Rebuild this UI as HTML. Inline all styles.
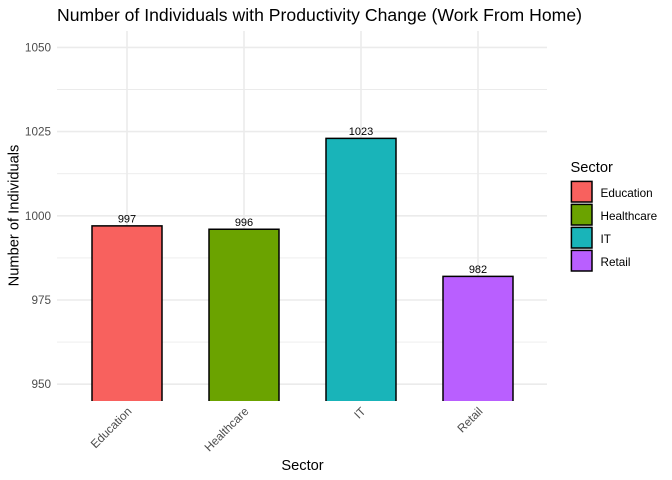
<!DOCTYPE html>
<html>
<head>
<meta charset="utf-8">
<style>
html,body{margin:0;padding:0;background:#fff;width:672px;height:480px;overflow:hidden}
svg{display:block}
text{font-family:"Liberation Sans",Arial,sans-serif}
</style>
</head>
<body>
<svg id="chart" width="672" height="480" viewBox="0 0 672 480" xmlns="http://www.w3.org/2000/svg">
  <rect x="0" y="0" width="672" height="480" fill="#fff"/>
  <g id="grid"></g>
  <g id="bars"></g>
  <g id="ylabels"></g>
  <g id="xlabels"></g>
  <text x="57" y="21" font-size="17.6" textLength="525" lengthAdjust="spacing" fill="#000">Number of Individuals with Productivity Change (Work From Home)</text>
  <text x="302.5" y="470" font-size="14.67" text-anchor="middle" fill="#000">Sector</text>
  <text transform="translate(18.5 215.5) rotate(-90)" font-size="14.67" text-anchor="middle" fill="#000">Number of Individuals</text>
  <g id="legend">
    <text x="570.5" y="172" font-size="14.67" fill="#000">Sector</text>
  </g>
</svg>
<script>
const categories = ["Education", "Healthcare", "IT", "Retail"];
const counts = [997, 996, 1023, 982];
const barColors = ["#F8615E", "#6BA300", "#19B4B9", "#B95FFF"];
const majorTicks = [950, 975, 1000, 1025, 1050];
const minorTicks = [962.5, 987.5, 1012.5, 1037.5];

const NS = "http://www.w3.org/2000/svg";
const panel = {left: 57, right: 547, top: 31, bottom: 401};
function y(v) { return 215.8 - (v - 1000) * 3.368; }
function x(i) { return 127 + i * 117; }
const barWidth = 70;

function make(parent, tag, attrs, txt) {
  const el = document.createElementNS(NS, tag);
  for (const k in attrs) el.setAttribute(k, attrs[k]);
  if (txt !== undefined) el.textContent = txt;
  parent.appendChild(el);
  return el;
}

const grid = document.getElementById("grid");
minorTicks.forEach(function (t) {
  const el = make(grid, "line", {x1: panel.left, x2: panel.right, y1: y(t), y2: y(t), stroke: "#ebebeb", "stroke-width": 0.9});
  
  
});
majorTicks.forEach(function (t) {
  const el = make(grid, "line", {x1: panel.left, x2: panel.right, y1: y(t), y2: y(t), stroke: "#ebebeb", "stroke-width": 1.6});
  
  
});
categories.forEach(function (c, i) {
  const el = make(grid, "line", {x1: x(i), x2: x(i), y1: panel.top, y2: panel.bottom, stroke: "#ebebeb", "stroke-width": 1.6});
  
  
});

const bars = document.getElementById("bars");
counts.forEach(function (v, i) {
  const top = y(v);
  const bar = make(bars, "path", {
    d: "M" + (x(i) - barWidth / 2) + " " + panel.bottom + "V" + top + "H" + (x(i) + barWidth / 2) + "V" + panel.bottom,
    fill: barColors[i], stroke: "#000", "stroke-width": 1.5
  });
  
  
  const label = make(bars, "text", {x: x(i), y: top - 3.5, "font-size": 11, "text-anchor": "middle", fill: "#000"}, String(v));
  
  
});

const ylabels = document.getElementById("ylabels");
majorTicks.forEach(function (t) {
  const el = make(ylabels, "text", {x: 51, y: y(t) + 4, "font-size": 11.73, "text-anchor": "end", fill: "#4d4d4d"}, String(t));
  
  
});

const xlabels = document.getElementById("xlabels");
categories.forEach(function (c, i) {
  const el = make(xlabels, "text", {
    transform: "translate(" + (x(i) + 5.3) + " 412) rotate(-45)",
    "font-size": 11.73, "text-anchor": "end", fill: "#4d4d4d"
  }, c);
  
  
});

const legend = document.getElementById("legend");
categories.forEach(function (c, i) {
  const top = 181 + i * 23;
  const key = make(legend, "rect", {x: 571.4, y: top + 0.4, width: 20.6, height: 20.6, fill: barColors[i], stroke: "#000", "stroke-width": 1.5});
  
  
  const label = make(legend, "text", {x: 600.5, y: top + 16, "font-size": 11.73, fill: "#000"}, c);
  
  
});
</script>
</body>
</html>
